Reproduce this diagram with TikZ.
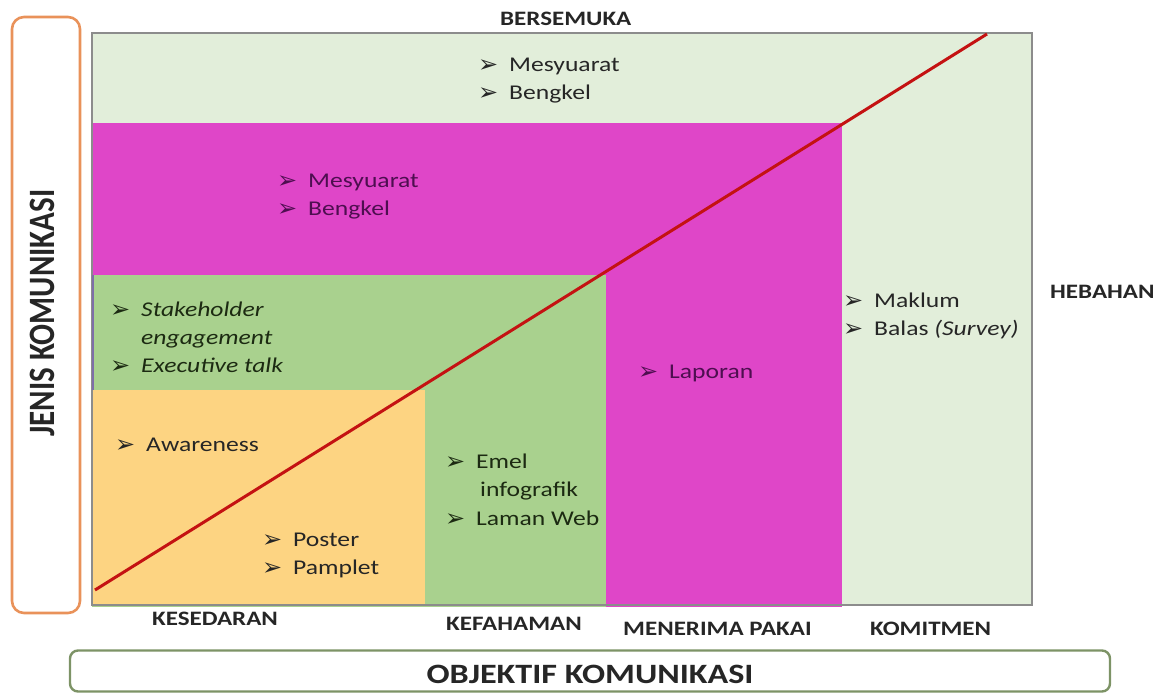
\documentclass[tikz,border=0pt]{standalone}
\usepackage{fontspec}
\setmainfont{Carlito}[FakeStretch=1.22]
\newfontfamily\plainfont{Carlito}
\newfontfamily\dingfont{DejaVu Sans}

\definecolor{palegreen}{HTML}{E2EEDA}
\definecolor{magentafill}{HTML}{DF46C8}
\definecolor{midgreen}{HTML}{A9D18E}
\definecolor{orangefill}{HTML}{FDD482}
\definecolor{trendred}{HTML}{C41212}
\definecolor{framegray}{HTML}{8C8C8C}
\definecolor{edgepurple}{HTML}{7E6EA8}
\definecolor{sideorange}{HTML}{E9925A}
\definecolor{boxgreen}{HTML}{7D9366}
\definecolor{textdark}{HTML}{262626}
\definecolor{textpurple}{HTML}{4E0E50}
\definecolor{textgreen}{HTML}{1C2A12}

% arrowhead bullet followed by a fixed indent
\newcommand\arrbul{\makebox[31pt][l]{\dingfont\fontsize{24}{24}\selectfont\raisebox{-1pt}{➢}}}

\begin{document}
\begin{tikzpicture}[x=1pt,y=-1pt,
  lab/.style={font=\bfseries\fontsize{20.5}{20.5}\selectfont, text=textdark, inner sep=0pt, anchor=base west},
  itm/.style={font=\fontsize{21}{21}\selectfont, text=textdark, inner sep=0pt, anchor=base west},
  itmp/.style={itm, text=textpurple},
  itmg/.style={itm, text=textgreen},
  sidebox/.style={draw=sideorange, line width=2.6pt, rounded corners=12pt, fill=white},
  axisbox/.style={draw=boxgreen, line width=2.4pt, rounded corners=8pt, fill=white},
  trend/.style={draw=trendred, line width=3pt}
]
\useasboundingbox (0,0) rectangle (1168,694);

% nested regions of the matrix
\fill[palegreen] (92,33) rectangle (1032,605);
\fill[magentafill] (92,123) rectangle (842,607);
\fill[midgreen] (92,275) rectangle (606,607);
\fill[orangefill] (92,390) rectangle (425,605);
\draw[framegray, line width=1.3pt] (92,33) rectangle (1032,605);
\draw[edgepurple, line width=2pt] (93,275) -- (93,390);

% diagonal trend line
\coordinate (lo) at (95,590);
\coordinate (hi) at (987,34);
\draw[trend] (lo) -- (hi);

% vertical axis box
\node[sidebox, minimum width=68pt, minimum height=596pt] (side) at (46,315) {};
\node[rotate=90, inner sep=0pt, text=textdark] (sidetxt) at (42,313)
  {\scalebox{1}[1.2]{\plainfont\bfseries\fontsize{31}{31}\selectfont JENIS KOMUNIKASI}};

% horizontal axis box
\node[axisbox, minimum width=1040pt, minimum height=41pt] (axis) at (590,671) {};
\node[inner sep=0pt, anchor=base, text=textdark, font=\bfseries\fontsize{28}{28}\selectfont] (axistxt) at (590,683) {OBJEKTIF KOMUNIKASI};

% column and row labels
\node[lab] (bersemuka) at (500,25) {BERSEMUKA};
\node[lab] (hebahan) at (1050,298) {HEBAHAN};
\node[lab] (kesedaran) at (152,625) {KESEDARAN};
\node[lab] (kefahaman) at (446,630) {KEFAHAMAN};
\node[lab] (menerima) at (623,635) {MENERIMA PAKAI};
\node[lab] (komitmen) at (870,635) {KOMITMEN};

% items in the top band
\node[itm] (t1) at (478,71) {\arrbul Mesyuarat};
\node[itm] (t2) at (478,99) {\arrbul Bengkel};

% items in the magenta band
\node[itmp] (m1) at (277,187) {\arrbul Mesyuarat};
\node[itmp] (m2) at (277,215) {\arrbul Bengkel};

% items in the green band
\node[itmg] (g1) at (110,316) {\arrbul\itshape Stakeholder};
\node[itmg] (g2) at (141,344) {\itshape engagement};
\node[itmg] (g3) at (110,372) {\arrbul\itshape Executive talk};

% items in the orange block
\node[itm] (o1) at (115,451) {\arrbul Awareness};
\node[itm] (o2) at (262,546) {\arrbul Poster};
\node[itm] (o3) at (262,574) {\arrbul Pamplet};

% items in the green column
\node[itmg] (e1) at (445,468) {\arrbul Emel};
\node[itmg] (e2) at (480,496) {infografik};
\node[itmg] (e3) at (445,525) {\arrbul Laman Web};

% item in the magenta column
\node[itmp] (l1) at (638,378) {\arrbul Laporan};

% items in the right column
\node[itm] (k1) at (843,307) {\arrbul Maklum};
\node[itm] (k2) at (843,335) {\arrbul Balas \textit{(Survey)}};
\end{tikzpicture}
\end{document}
